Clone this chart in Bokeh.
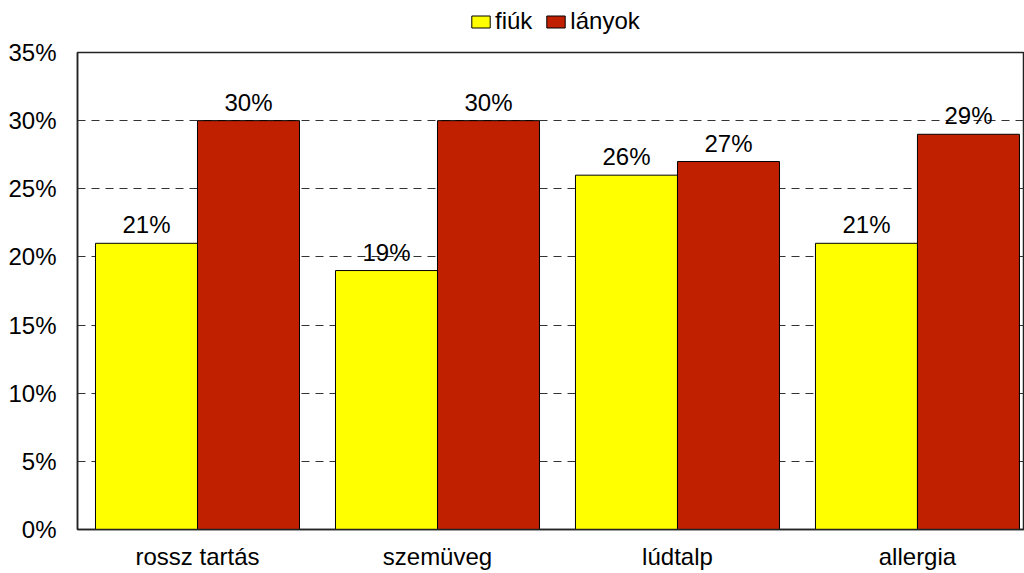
from bokeh.plotting import figure
from bokeh.layouts import column
from bokeh.models import Range1d, FixedTicker, PrintfTickFormatter, Legend, LegendItem
from bokeh.core.properties import value
from bokeh.embed import file_html
from bokeh.resources import INLINE

categories = ["rossz tartás", "szemüveg", "lúdtalp", "allergia"]
fiuk = [21, 19, 26, 21]
lanyok = [30, 30, 27, 29]
y_ticks = [0, 5, 10, 15, 20, 25, 30, 35]
series_names = ["fiúk", "lányok"]

FONT = "Liberation Sans"
YELLOW = "#FFFF00"
RED = "#C02000"

n = len(categories)
xf = [i + 0.2875 for i in range(n)]
xl = [i + 0.7125 for i in range(n)]

# ---- main chart ----
p = figure(width=1024, height=535, x_range=Range1d(0, 3.946), y_range=Range1d(0, 35),
           output_backend="svg", toolbar_location=None,
           min_border_left=77, min_border_right=0, min_border_top=14, min_border_bottom=44)

p.background_fill_color = "white"
p.border_fill_color = "white"
p.outline_line_color = "#222222"
p.outline_line_width = 1.5

r1 = p.vbar(x=xf, top=fiuk, width=0.425, bottom=0, fill_color=YELLOW, line_color="black", line_width=1)
r2 = p.vbar(x=xl, top=lanyok, width=0.425, bottom=0, fill_color=RED, line_color="black", line_width=1)

p.text(x=xf, y=fiuk, text=[f"{v}%" for v in fiuk], text_align="center", text_baseline="bottom",
       y_offset=-5, text_font=value(FONT), text_font_size="24px", text_color="black")
p.text(x=xl, y=lanyok, text=[f"{v}%" for v in lanyok], text_align="center", text_baseline="bottom",
       y_offset=-5, text_font=value(FONT), text_font_size="24px", text_color="black")

p.xgrid.grid_line_color = None
p.ygrid.grid_line_color = "#333333"
p.ygrid.grid_line_dash = "8 6"
p.ygrid.grid_line_width = 1
p.ygrid.level = "underlay"

p.yaxis.ticker = FixedTicker(ticks=y_ticks)
p.yaxis.formatter = PrintfTickFormatter(format="%d%%")
p.yaxis.major_tick_out = 0
p.yaxis.major_tick_in = 0
p.yaxis.minor_tick_line_color = None
p.yaxis.major_label_standoff = 21
p.yaxis.axis_line_color = "#222222"
p.yaxis.axis_line_width = 1.5

p.xaxis.ticker = FixedTicker(ticks=[i + 0.5 for i in range(n)])
p.xaxis.major_label_overrides = {i + 0.5: c for i, c in enumerate(categories)}
p.xaxis.major_tick_out = 0
p.xaxis.major_tick_in = 0
p.xaxis.minor_tick_line_color = None
p.xaxis.major_label_standoff = 13
p.xaxis.axis_line_color = "#222222"
p.xaxis.axis_line_width = 1.5

for ax in (p.xaxis, p.yaxis):
    ax.major_label_text_font = FONT
    ax.major_label_text_font_size = "24px"
    ax.major_label_text_color = "black"

# ---- legend strip ----
lg = figure(width=1024, height=38, x_range=Range1d(0, 1), y_range=Range1d(0, 1),
            output_backend="svg", toolbar_location=None,
            x_axis_location=None, y_axis_location=None,
            min_border_left=0, min_border_right=0, min_border_top=0, min_border_bottom=0)
lg.outline_line_color = None
lg.xgrid.grid_line_color = None
lg.ygrid.grid_line_color = None
# placeholder renderers (outside the visible range) that carry the legend swatch styles
lr1 = lg.vbar(x=[-5], top=[-5], bottom=[-6], width=0.1, fill_color=YELLOW, line_color="black", line_width=1)
lr2 = lg.vbar(x=[-5], top=[-5], bottom=[-6], width=0.1, fill_color=RED, line_color="black", line_width=1)
legend = Legend(items=[LegendItem(label=series_names[0], renderers=[lr1]),
                       LegendItem(label=series_names[1], renderers=[lr2])],
                orientation="horizontal", location=(392, 3),
                glyph_width=23, glyph_height=15, label_standoff=3, spacing=12,
                padding=0, margin=0, border_line_color=None, background_fill_alpha=0,
                label_text_font=FONT, label_text_font_size="24px", label_height=20,
                label_text_color="black")
lg.add_layout(legend, "center")

layout = column(lg, p, spacing=0)
open("out.html", "w").write(file_html(layout, INLINE))
